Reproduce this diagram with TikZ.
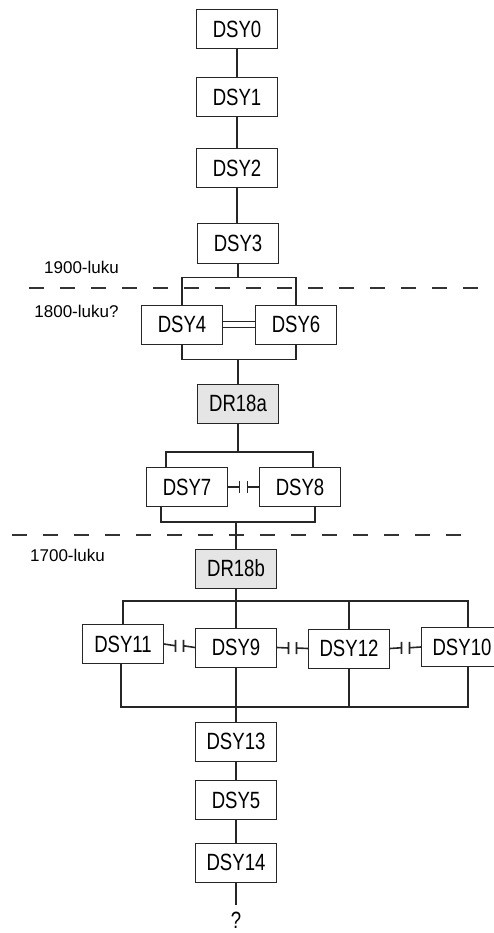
\documentclass[tikz,border=0pt]{standalone}
\usepackage{fontspec}
\setmainfont{Liberation Sans}
\newfontfamily\boxfont[FakeStretch=0.79]{Liberation Sans}
\usetikzlibrary{calc}

\tikzset{
  sample/.style={draw=black!85, line width=1pt, minimum width=81pt, minimum height=39pt,
    inner sep=0pt, font=\boxfont\fontsize{23.5}{25}\selectfont},
  copy/.style={sample, fill=black!10},
  era/.style={font=\fontsize{17}{20}\selectfont, inner sep=0pt},
  link/.style={draw=black!85, line width=1.6pt},
  border/.style={draw=black!80, line width=1.5pt, dash pattern=on 15pt off 16pt}
}

% two bars facing each other between two neighbouring boxes
\newcommand{\apart}[2]{%
  \draw[link] (#1.east) -- ($(#1.east)!0.5!(#2.west)+(-4,0)$) ++(0,-6) -- ++(0,12);
  \draw[link] (#2.west) -- ($(#1.east)!0.5!(#2.west)+(4,0)$) ++(0,-6) -- ++(0,12);
}

\begin{document}
\begin{tikzpicture}[x=1pt, y=-1pt]
        \useasboundingbox (0,0) rectangle (494,933);

        % Era borders
        \draw[border] (29,288) -- (480,288);
        \draw[border] (12,535) -- (463,535);
        \node[era] (e1900) at (81.5,267) {1900-luku};
        \node[era] (e1800) at (76.5,311) {1800-luku?};
        \node[era] (e1700) at (67.5,555) {1700-luku};

        % Upper chain
        \node[sample] (dsy0) at (237,29) {DSY0};
        \node[sample] (dsy1) at (237,97.5) {DSY1};
        \node[sample] (dsy2) at (237,168.5) {DSY2};
        \node[sample] (dsy3) at (238,243.5) {DSY3};
        \draw[link] (dsy0) -- (dsy1);
        \draw[link] (dsy1) -- (dsy2);
        \draw[link] (dsy2.south) -- (dsy2.south |- dsy3.north);

        % DSY4 and DSY6
        \node[sample] (dsy4) at (182,324.5) {DSY4};
        \node[sample] (dsy6) at (296,324.5) {DSY6};
        \draw[link] (dsy4.north) -- ++(0,-27) -| (dsy6.north);
        \draw[link] (dsy3.south) -- (dsy3.south |- 0,278);
        \draw[black!85, line width=1pt] ([yshift=-3pt]dsy4.east) -- ([yshift=-3pt]dsy6.west);
        \draw[black!85, line width=1pt] ([yshift=3pt]dsy4.east) -- ([yshift=3pt]dsy6.west);
        \draw[link] (dsy4.south) -- ++(0,15) -| (dsy6.south);

        % DR18a
        \node[copy] (dr18a) at (238,403.5) {DR18a};
        \draw[link] (dr18a.north) -- (dr18a.north |- 0,359);

        % DSY7 and DSY8
        \node[sample] (dsy7) at (187,487) {DSY7};
        \node[sample] (dsy8) at (300,487) {DSY8};
        \draw[link] ([xshift=-21pt]dsy7.north) |- (dr18a.south |- 0,452) -| ([xshift=13pt]dsy8.north);
        \draw[link] (dr18a.south) -- (dr18a.south |- 0,452);
        \apart{dsy7}{dsy8}
        \draw[link] ([xshift=-26pt]dsy7.south) |- (236,522) -| ([xshift=15pt]dsy8.south);

        % DR18b
        \node[copy] (dr18b) at (236,568.5) {DR18b};
        \draw[link] (dr18b.north) -- (dr18b.north |- 0,522);

        % Lower row
        \node[sample] (dsy11) at (123,644) {DSY11};
        \node[sample] (dsy9) at (236,647.5) {DSY9};
        \node[sample] (dsy12) at (349,648.5) {DSY12};
        \node[sample] (dsy10) at (462,647) {DSY10};
        \draw[link] (dsy11.north) |- ([xshift=6pt]dsy10.north |- 0,601) -- ([xshift=6pt]dsy10.north);
        \draw[link] (dr18b.south) -- (dr18b.south |- dsy9.north);
        \draw[link] (dsy12.north) -- (dsy12.north |- 0,601);
        \apart{dsy11}{dsy9}
        \apart{dsy9}{dsy12}
        \apart{dsy12}{dsy10}
        \draw[link] ([xshift=-2pt]dsy11.south) |- ([xshift=6pt]dsy10.south |- 0,707) -- ([xshift=6pt]dsy10.south);
        \draw[link] (dsy9.south) -- (dsy9.south |- 0,707);
        \draw[link] (dsy12.south) -- (dsy12.south |- 0,707);

        % Lower chain
        \node[sample] (dsy13) at (236,741.5) {DSY13};
        \node[sample] (dsy5) at (236,800) {DSY5};
        \node[sample] (dsy14) at (236,862.5) {DSY14};
        \node[font=\boxfont\fontsize{23.5}{25}\selectfont, inner sep=0pt] (open) at (236,920) {?};
        \draw[link] (dsy13.north) -- (dsy13.north |- 0,707);
        \draw[link] (dsy13) -- (dsy5);
        \draw[link] (dsy5) -- (dsy14);
        \draw[link] (dsy14.south) -- ([yshift=7pt]open.north);
\end{tikzpicture}
\end{document}
